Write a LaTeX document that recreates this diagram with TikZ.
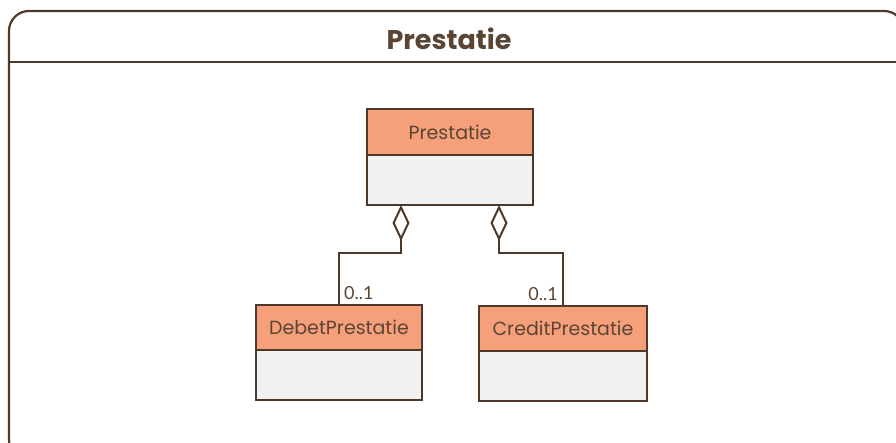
\documentclass[tikz,border=0pt]{standalone}
\usepackage{fontspec}
\setmainfont{Poppins}
\newfontfamily\multfont{Lato}
\usetikzlibrary{arrows.meta}
\definecolor{umlline}{HTML}{4E3829}
\definecolor{umltext}{HTML}{5A4434}
\definecolor{umlhead}{HTML}{F5A07A}
\definecolor{umlbody}{HTML}{F1F1F1}
\tikzset{
	classhead/.style={draw=umlline, line width=2pt, outer sep=0pt, fill=umlhead, text=umltext, font=\fontsize{19}{22}\selectfont, inner sep=0pt, minimum height=46pt},
	classbody/.style={draw=umlline, line width=2pt, outer sep=0pt, fill=umlbody, inner sep=0pt, minimum height=50pt},
	agg/.style={draw=umlline, line width=2pt, {Diamond[open, fill=white, length=36pt, width=17pt]}-},
	mult/.style={text=umltext, font=\multfont\fontsize{18}{21}\selectfont, inner sep=0pt}
}
\begin{document}
\begin{tikzpicture}[x=1pt, y=-1pt]
		\clip (0,0) rectangle (896,443);
		% package frame
		\draw[umlline, line width=2.2pt, rounded corners=20pt] (9,11) rectangle (904,460);
		\draw[umlline, line width=2.2pt] (9,62) -- (904,62);
		\node[text=umltext, font=\fontsize{27}{32}\selectfont\bfseries] (titel) at (449,39) {Prestatie};
		% classes
		\node[classhead, minimum width=166pt] (prestatie) at (450,132) {Prestatie};
		\node[classbody, minimum width=166pt, anchor=north] (prestatieBody) at (prestatie.south) {};
		\node[classhead, minimum width=166pt, minimum height=45pt] (debet) at (339,327.5) {DebetPrestatie};
		\node[classbody, minimum width=166pt, anchor=north] (debetBody) at (debet.south) {};
		\node[classhead, minimum width=168pt, minimum height=45pt] (credit) at (563,328.5) {CreditPrestatie};
		\node[classbody, minimum width=168pt, anchor=north] (creditBody) at (credit.south) {};
		% aggregations
		\draw[agg] ([xshift=-49pt]prestatieBody.south) -- ++(0,48) -| (debet.north);
		\draw[agg] ([xshift=49pt]prestatieBody.south) -- ++(0,48) -| (credit.north);
		\node[mult, anchor=south west] (debetMult) at ([xshift=5pt, yshift=5pt]debet.north) {0..1};
		\node[mult, anchor=south east] (creditMult) at ([xshift=-5pt, yshift=5pt]credit.north) {0..1};
	\end{tikzpicture}
\end{document}
